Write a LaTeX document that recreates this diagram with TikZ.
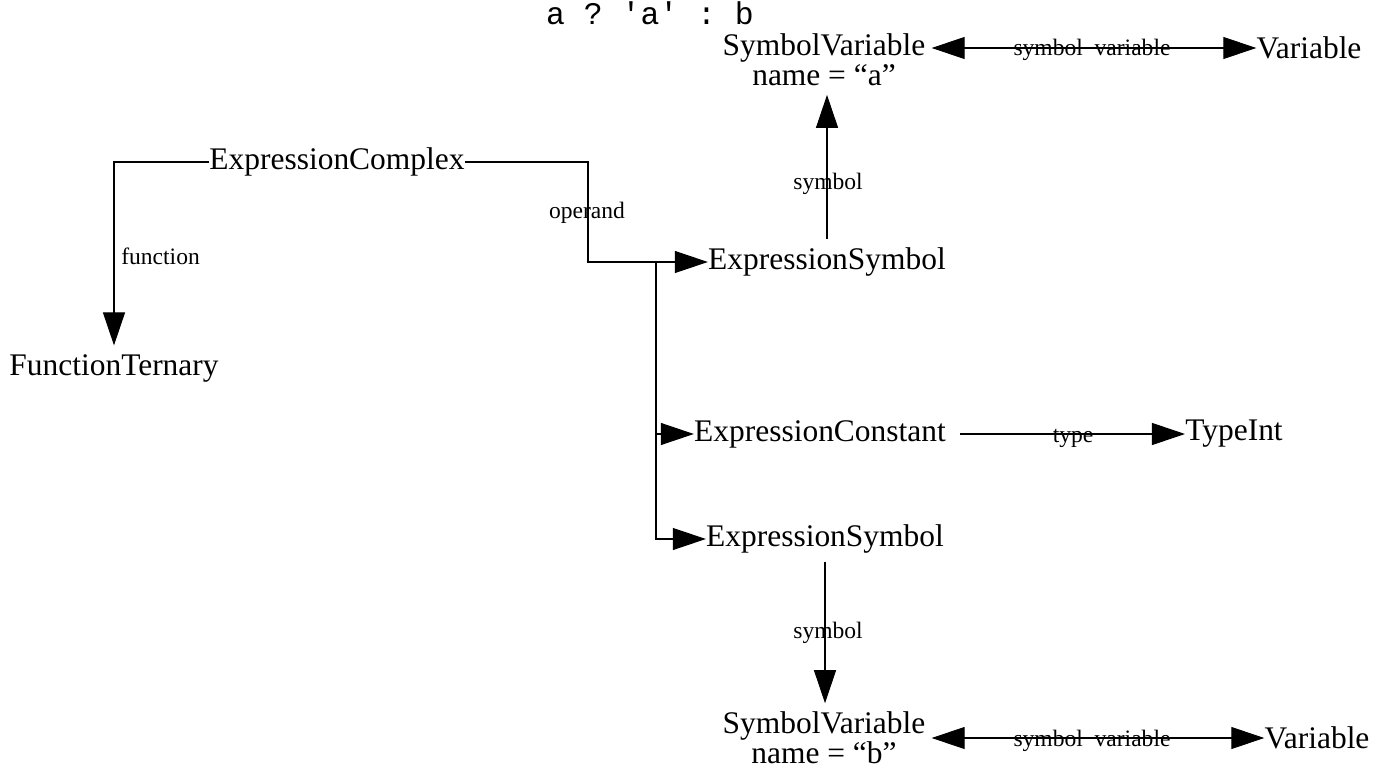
\documentclass[tikz,border=0pt]{standalone}
\usepackage{fontspec}
\setmainfont{Liberation Serif}
\setmonofont{Liberation Mono}
\usetikzlibrary{arrows.meta}
\tikzset{
	obj/.style={inner xsep=0pt, inner ysep=4.8pt, align=center, font=\fontsize{17.9}{17}\selectfont},
	lbl/.style={inner sep=0pt, font=\fontsize{13.4}{15}\selectfont},
	link/.style={draw=black, line width=0.6pt},
	arr/.style={link, -{Triangle[length=0.66cm,width=0.44cm]}},
	dblarr/.style={link, {Triangle[length=0.66cm,width=0.44cm]}-{Triangle[length=0.66cm,width=0.44cm]}}
}

\begin{document}
\begin{tikzpicture}[x=0.02cm, y=-0.02cm]
		%%%%% START %%%%%
		\useasboundingbox (0,0) rectangle (1381,773);
		
		\node[inner sep=0pt, anchor=base, font=\ttfamily\fontsize{17.9}{18.8}\selectfont] (expr) at (650,25) {a ? 'a' : b};
		
		\node[obj, inner ysep=0pt] (symVarA) at (824,60) {SymbolVariable\\name = “a”};
		\node[obj] (varA) at (1309,48) {Variable};
		
		\node[obj] (exprComplex) at (337,162) {ExpressionComplex};
		\node[obj] (funcTernary) at (114,368) {FunctionTernary};
		
		\node[obj] (exprSym) at (827,262) {ExpressionSymbol};
		\node[obj] (exprConst) at (820,434) {ExpressionConstant};
		\node[obj] (typeInt) at (1234,434) {TypeInt};
		\node[obj] (exprSymB) at (825,539) {ExpressionSymbol};
		
		\node[obj] (symVarB) at (824,738) {SymbolVariable\\name = “b”};
		\node[obj] (varB) at (1317,738) {Variable};
		
		\coordinate (opBend) at (588,162);
		\coordinate (bus) at (656,262);
		
		\draw[arr] (exprComplex.west) -| (funcTernary.north);
		\draw[arr] (exprComplex.east) -- (opBend) |- (exprSym.west);
		\draw[arr] (bus) |- (exprConst.west);
		\draw[arr] (bus) |- (exprSymB.west);
		
		\draw[arr, shorten >=0.17cm] (exprSym.north) -- (exprSym.north |- symVarA.south);
		\draw[arr] (exprSymB.south) -- (exprSymB.south |- symVarB.north);
		
		\draw[dblarr, shorten <=0.12cm] (symVarA.east |- varA.west) -- (varA.west);
		\draw[arr, shorten <=0.28cm] (exprConst.east) -- (typeInt.west);
		\draw[dblarr, shorten <=0.12cm] (symVarB.east |- varB.west) -- (varB.west);
		
		\node[lbl, anchor=west] (lFunction) at (121,256) {function};
		\node[lbl] (lOperand) at (587,213) {operand};
		\node[lbl] (lSymA) at (828,184) {symbol};
		\node[lbl] (lSymB) at (828,633) {symbol};
		\node[lbl, anchor=base] (lSymVarA) at (1092,56) {symbol\enspace variable};
		\node[lbl, anchor=base] (lType) at (1073,442) {type};
		\node[lbl, anchor=base] (lSymVarB) at (1092,746) {symbol\enspace variable};
		
		%%%%% END %%%%%
\end{tikzpicture}
\end{document}
